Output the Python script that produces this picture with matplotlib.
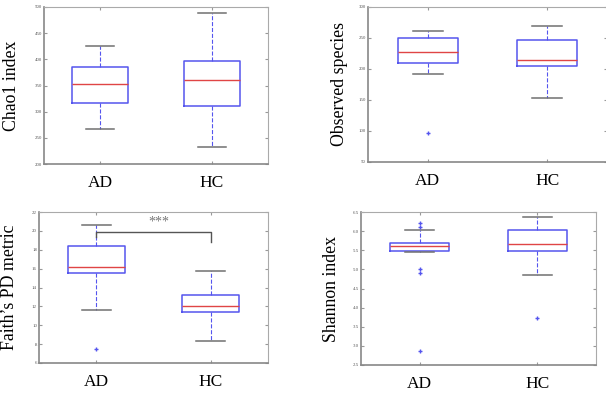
import matplotlib
matplotlib.use('Agg')
import matplotlib.pyplot as plt

# groups
groups = ['AD', 'HC']

# Chao1 index
chao_lo = [266, 232]
chao_q1 = [317, 310]
chao_med = [353, 360]
chao_q3 = [385, 397]
chao_hi = [425, 489]
chao_fl = [[], []]

# Observed species
obs_lo = [192, 154]
obs_q1 = [209, 205]
obs_med = [227, 214]
obs_q3 = [250, 247]
obs_hi = [262, 270]
obs_fl = [[96], []]

# Faith's PD
pd_lo = [11.6, 8.3]
pd_q1 = [15.5, 11.4]
pd_med = [16.2, 12.0]
pd_q3 = [18.4, 13.2]
pd_hi = [20.6, 15.8]
pd_fl = [[7.5], []]

# Shannon index
sh_lo = [5.46, 4.85]
sh_q1 = [5.47, 5.47]
sh_med = [5.61, 5.67]
sh_q3 = [5.70, 6.03]
sh_hi = [6.02, 6.38]
sh_fl = [[6.20, 6.11, 5.02, 4.90, 2.87], [3.72]]

plt.rcParams['font.family'] = 'Liberation Serif'

fig = plt.figure(figsize=(6.06, 4.01), dpi=100)
W, H = 606., 401.


def make_ax(l, r, t, b):
    return fig.add_axes([l / W, 1 - b / H, (r - l) / W, (b - t) / H])


def draw(ax, lo, q1, med, q3, hi, fl, ylim, yticks, ylabel, ylab_x, fmt='%d'):
    stats = []
    for i in range(2):
        stats.append(dict(whislo=lo[i], q1=q1[i], med=med[i], q3=q3[i],
                          whishi=hi[i], fliers=fl[i], label=groups[i]))
    ax.bxp(stats, positions=[1, 2], widths=0.5, showfliers=True,
           boxprops=dict(color='#5555ee', linewidth=1.1),
           medianprops=dict(color='#e04545', linewidth=1.0),
           whiskerprops=dict(color='#5555ee', linestyle='--', linewidth=0.8),
           capprops=dict(color='#707070', linewidth=1.1),
           flierprops=dict(marker='+', markeredgecolor='#5555ee', markersize=3,
                           linestyle='none'))
    ax.set_xlim(0.5, 2.5)
    ax.set_ylim(*ylim)
    ax.set_yticks(yticks)
    ax.set_yticklabels([fmt % v for v in yticks])
    ax.set_xticks([1, 2])
    ax.set_xticklabels(groups, fontsize=12.5)
    ax.tick_params(axis='y', labelsize=3.5, direction='in', length=2,
                   right=True, color='#999999', labelcolor='#555555', pad=1.5)
    ax.tick_params(axis='x', direction='in', length=2, top=True,
                   color='#999999', pad=8)
    for s in ax.spines.values():
        s.set_color('#aaaaaa')
        s.set_linewidth(0.8)
    for s in ['left', 'bottom']:
        ax.spines[s].set_color('#888888')
        ax.spines[s].set_linewidth(1.2)
    ax.set_ylabel(ylabel, fontsize=12.8)
    ax.yaxis.set_label_coords(ylab_x, 0.5)


ax1 = make_ax(44, 268, 7, 164)
draw(ax1, chao_lo, chao_q1, chao_med, chao_q3, chao_hi, chao_fl,
     (200, 500), list(range(200, 501, 50)), 'Chao1 index', -0.105)

ax2 = make_ax(368, 607, 7, 162)
draw(ax2, obs_lo, obs_q1, obs_med, obs_q3, obs_hi, obs_fl,
     (50, 300), list(range(50, 301, 50)), 'Observed species', -0.084)

ax3 = make_ax(39, 268, 212, 363)
draw(ax3, pd_lo, pd_q1, pd_med, pd_q3, pd_hi, pd_fl,
     (6, 22), list(range(6, 23, 2)), "Faith’s PD metric", -0.092)

ax4 = make_ax(361, 596, 212, 365)
draw(ax4, sh_lo, sh_q1, sh_med, sh_q3, sh_hi, sh_fl,
     (2.5, 6.5), [2.5, 3.0, 3.5, 4.0, 4.5, 5.0, 5.5, 6.0, 6.5],
     'Shannon index', -0.089, fmt='%.1f')

# significance bracket
ax3.plot([1, 1, 2, 2], [19.3, 19.9, 19.9, 18.8], color='#555555', linewidth=1.0)
ax3.text(1.55, 20.2, '***', ha='center', va='bottom', fontsize=10,
         color='#777777')

fig.savefig('out.png', dpi=100)
